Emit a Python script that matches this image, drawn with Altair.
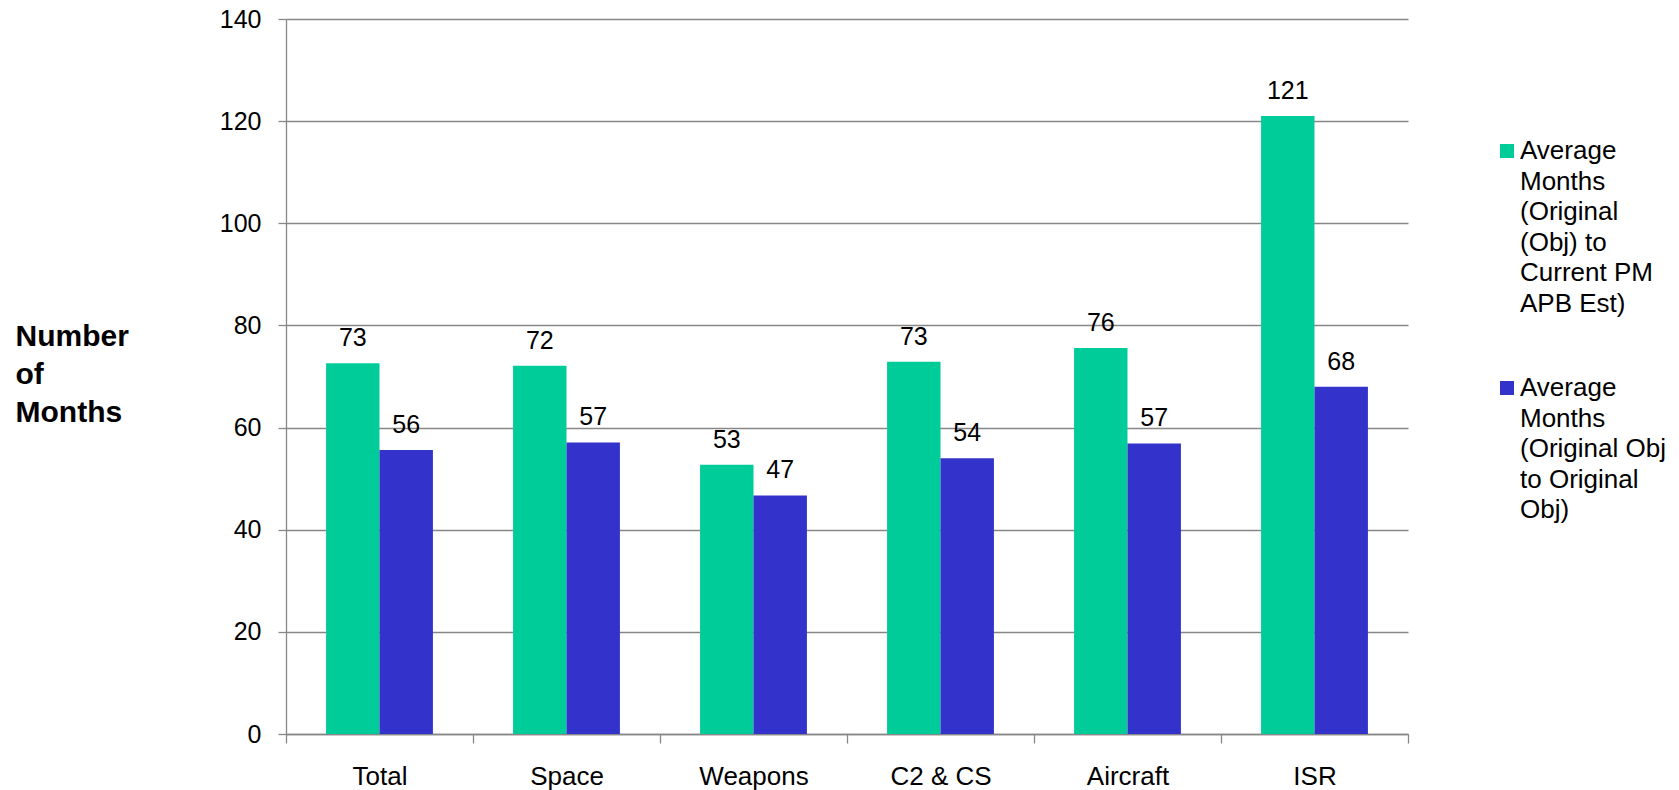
import altair as alt
import pandas as pd

# Program categories along the x axis
categories = ["Total", "Space", "Weapons", "C2 & CS", "Aircraft", "ISR"]

# Series names; "|" marks the line breaks used in the legend
series_names = [
    "Average|Months|(Original|(Obj) to|Current PM|APB Est)",
    "Average|Months|(Original Obj|to Original|Obj)",
]
series_colors = ["#00CC99", "#3333CC"]

# Average months per category for each series
current_est = [72.6, 72.1, 52.7, 72.9, 75.6, 121.0]
original_obj = [55.6, 57.1, 46.7, 54.0, 56.9, 68.0]

y_ticks = [0, 20, 40, 60, 80, 100, 120, 140]
y_title = ["Number", "of", "Months"]

FONT = "Liberation Sans, Arial, Helvetica, sans-serif"
GRID = "#878787"

rows = []
for cat, a, b in zip(categories, current_est, original_obj):
    rows.append({"category": cat, "series": series_names[0], "value": a})
    rows.append({"category": cat, "series": series_names[1], "value": b})
df = pd.DataFrame(rows)

base = alt.Chart(df).encode(
    x=alt.X(
        "category:N",
        sort=categories,
        scale=alt.Scale(paddingInner=0, paddingOuter=0),
        axis=alt.Axis(
            title=None,
            labelAngle=0,
            labelFontSize=26,
            labelFont=FONT,
            labelColor="black",
            labelPadding=20,
            tickSize=9,
            tickBand="extent",
            tickColor=GRID,
            tickWidth=1.3,
            domainColor=GRID,
            domainWidth=1.3,
            grid=False,
        ),
    ),
    xOffset=alt.XOffset(
        "series:N",
        sort=series_names,
        scale=alt.Scale(domain=series_names, paddingInner=0, paddingOuter=0.75),
    ),
    y=alt.Y(
        "value:Q",
        scale=alt.Scale(domain=[0, 140], nice=False, zero=True),
        axis=alt.Axis(
            values=y_ticks,
            title=y_title,
            titleAngle=0,
            titleAlign="left",
            titleBaseline="alphabetic",
            titleX=-271,
            titleY=326,
            titleFont=FONT,
            titleFontSize=30,
            titleFontWeight="bold",
            titleLineHeight=38,
            titleColor="black",
            labelFont=FONT,
            labelFontSize=25,
            labelColor="black",
            labelPadding=17,
            tickSize=8,
            tickColor=GRID,
            tickWidth=1.3,
            domainColor=GRID,
            domainWidth=1.3,
            gridColor=GRID,
            gridWidth=1.3,
        ),
    ),
)

bars = base.mark_bar().encode(
    color=alt.Color(
        "series:N",
        scale=alt.Scale(domain=series_names, range=series_colors),
        legend=alt.Legend(
            title=None,
            orient="none",
            legendX=1208,
            legendY=119,
            padding=0,
            symbolType="square",
            symbolSize=196,
            symbolStrokeWidth=0,
            labelExpr="split(datum.label, '|')",
            labelFont=FONT,
            labelFontSize=26,
            labelBaseline="middle",
            labelColor="black",
            labelLimit=400,
            labelOffset=0,
            rowPadding=58,
        ),
    )
)

labels = base.mark_text(
    dy=-17, baseline="alphabetic", fontSize=25, font=FONT, color="black"
).encode(text=alt.Text("value:Q", format=".0f"))

chart = (
    alt.layer(bars, labels)
    .properties(
        width=1122,
        height=715,
        autosize=alt.AutoSizeParams(type="none"),
        padding={"left": 286, "top": 19, "right": 271, "bottom": 56},
    )
    .configure(background="white", style={"guide-label": {"lineHeight": 30.5}})
    .configure_view(strokeWidth=0, stroke=None)
)

chart.save("out.html", embed_options={"renderer": "svg", "actions": False})
